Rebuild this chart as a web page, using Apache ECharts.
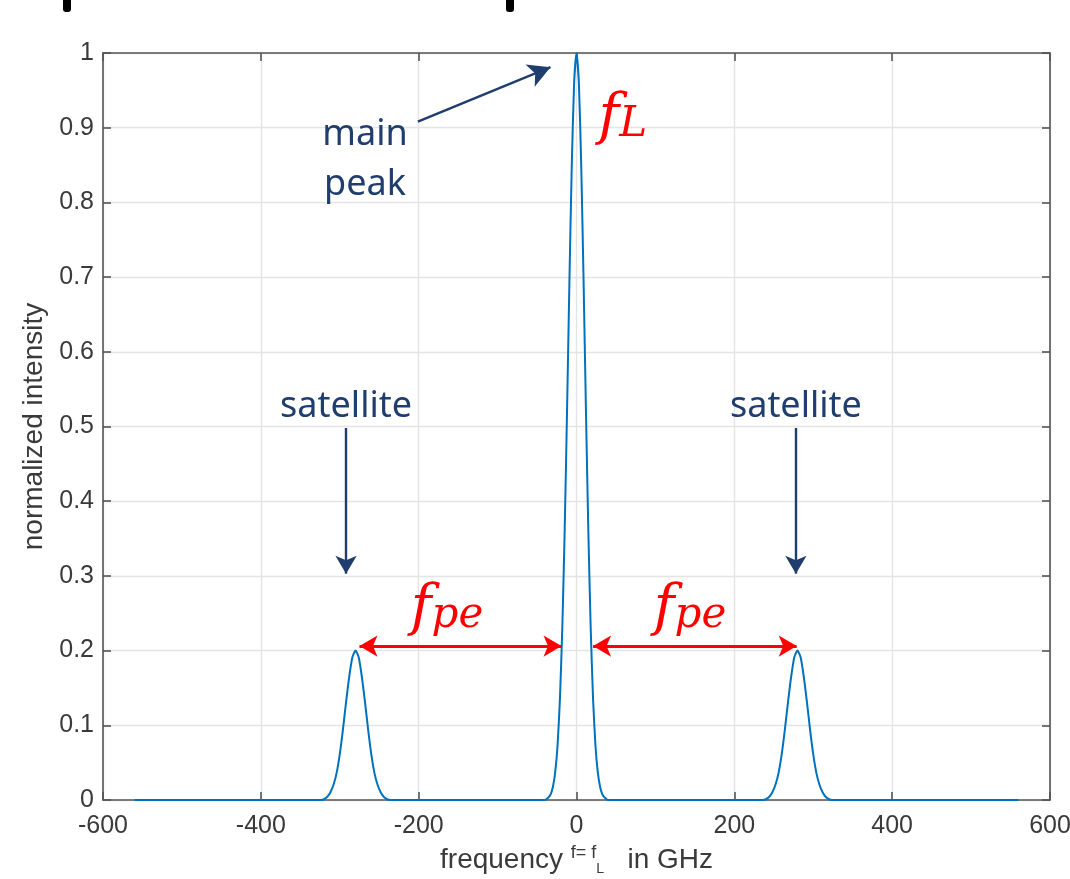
<!DOCTYPE html>
<html>
<head>
<meta charset="utf-8">
<script src="https://cdn.jsdelivr.net/npm/echarts@6/dist/echarts.min.js"></script>
<style>
  html, body { margin: 0; padding: 0; background: #fff; }
  #chart { width: 1070px; height: 879px; }
</style>
</head>
<body>
<div id="chart"></div>
<script>
// spectrum: main peak at 0, satellites at +-280 GHz
const freqGHz = [
  -560, -324, -320, -316, -312, -308, -304, -300, -296, -292, -288, -284, -280,
  -276, -272, -268, -264, -260, -256, -252, -248, -244, -240, -236,
  -40, -36, -33, -30, -27, -24, -21, -18, -15, -12, -9, -6, -3, 0,
  3, 6, 9, 12, 15, 18, 21, 24, 27, 30, 33, 36, 40,
  236, 240, 244, 248, 252, 256, 260, 264, 268, 272, 276, 280,
  284, 288, 292, 296, 300, 304, 308, 312, 316, 320, 324, 560
];
const intensity = [
  0, 0, 0.001, 0.004, 0.010, 0.020, 0.036, 0.061, 0.094, 0.131, 0.165, 0.191, 0.2,
  0.191, 0.165, 0.131, 0.094, 0.061, 0.036, 0.020, 0.010, 0.004, 0.001, 0,
  0, 0.003, 0.007, 0.017, 0.037, 0.073, 0.135, 0.230, 0.360, 0.520, 0.693, 0.849, 0.960, 1,
  0.960, 0.849, 0.693, 0.520, 0.360, 0.230, 0.135, 0.073, 0.037, 0.017, 0.007, 0.003, 0,
  0, 0.001, 0.004, 0.010, 0.020, 0.036, 0.061, 0.094, 0.131, 0.165, 0.191, 0.2,
  0.191, 0.165, 0.131, 0.094, 0.061, 0.036, 0.020, 0.010, 0.004, 0.001, 0, 0
];
const xTicks = [-600, -400, -200, 0, 200, 400, 600];
const yTicks = [0, 0.1, 0.2, 0.3, 0.4, 0.5, 0.6, 0.7, 0.8, 0.9, 1];

const satelliteX = [-292, 278];
const fpeArrows = [[-275, -19], [21, 279]];

const chart = echarts.init(document.getElementById('chart'), null, { renderer: 'canvas' });

const axisColor = '#555555';
const labelColor = '#3a3a3a';
const navy = '#1f3e6e';
const font = 'Liberation Sans, Arial, sans-serif';

const baseAxis = {
  axisLine: { show: true, onZero: false, lineStyle: { color: axisColor, width: 1.6 } },
  axisTick: { show: true, inside: true, length: 8, lineStyle: { color: axisColor, width: 1.6 } },
  splitLine: { show: false },
  axisLabel: { show: false }
};
const gridLine = { show: true, lineStyle: { color: '#e4e4e4', width: 1.4 } };

const option = {
  animation: false,
  grid: { left: 103, right: 20, top: 53, bottom: 79, containLabel: false, outerBoundsMode: 'none' },
  xAxis: [
    {
      type: 'value', min: -600, max: 600, interval: 200, position: 'bottom',
      axisLine: baseAxis.axisLine, axisTick: baseAxis.axisTick, splitLine: gridLine,
      axisLabel: { show: true, color: labelColor, fontSize: 25, fontFamily: font, margin: 14,
        formatter: v => xTicks.includes(v) ? String(v) : '' },
      name: 'frequency {s|f= f}{sub|L}   in GHz',
      nameLocation: 'middle', nameGap: 44,
      nameTextStyle: {
        color: labelColor, fontSize: 28, fontFamily: font,
        rich: {
          s: { fontSize: 18, color: labelColor, fontFamily: font, verticalAlign: 'top', padding: [0, 0, 14, 0] },
          sub: { fontSize: 14, color: labelColor, fontFamily: font, verticalAlign: 'bottom', padding: [10, 0, 0, 0] }
        }
      }
    },
    Object.assign({ type: 'value', min: -600, max: 600, interval: 200, position: 'top' }, baseAxis)
  ],
  yAxis: [
    {
      type: 'value', min: 0, max: 1, interval: 0.1, position: 'left',
      axisLine: baseAxis.axisLine, axisTick: baseAxis.axisTick, splitLine: gridLine,
      axisLabel: { show: true, color: labelColor, fontSize: 25, fontFamily: font, margin: 9,
        formatter: v => String(yTicks.find(t => Math.abs(t - v) < 1e-6) ?? '') },
      name: 'normalized intensity', nameLocation: 'middle', nameGap: 55, nameRotate: 90,
      nameTextStyle: { color: labelColor, fontSize: 28, fontFamily: font }
    },
    Object.assign({ type: 'value', min: 0, max: 1, interval: 0.1, position: 'right' }, baseAxis)
  ],
  series: [
    {
      type: 'line',
      data: freqGHz.map((f, i) => [f, intensity[i]]),
      showSymbol: false,
      smooth: 0.2,
      lineStyle: { color: '#0072bd', width: 2 },
      z: 3,
      markLine: {
        silent: true,
        animation: false,
        label: { show: false },
        symbolSize: [16, 18],
        lineStyle: { color: navy, width: 2.4, type: 'solid' },
        data: [
          // main peak arrow
          [{ coord: [-201, 0.908], symbol: 'none' }, { coord: [-33, 0.981], symbol: 'arrow', symbolSize: [18, 22] }],
          // satellite arrows
          [{ coord: [satelliteX[0], 0.498], symbol: 'none' }, { coord: [satelliteX[0], 0.303], symbol: 'arrow' }],
          [{ coord: [satelliteX[1], 0.498], symbol: 'none' }, { coord: [satelliteX[1], 0.303], symbol: 'arrow' }]
        ]
      }
    },
    {
      type: 'line',
      data: [],
      markLine: {
        silent: true,
        animation: false,
        label: { show: false },
        symbol: ['arrow', 'arrow'],
        symbolSize: [16, 18],
        lineStyle: { color: '#ff0000', width: 3, type: 'solid' },
        data: fpeArrows.map(a => [{ coord: [a[0], 0.206] }, { coord: [a[1], 0.206] }])
      }
    }
  ]
};

chart.setOption(option);

// text annotations placed in data space
function px(x, y) { return chart.convertToPixel({ xAxisIndex: 0, yAxisIndex: 0 }, [x, y]); }
const sans = '"Noto Sans", "Open Sans", sans-serif';
const serif = '"DejaVu Serif", "Liberation Serif", serif';
const texts = [];
function addText(pos, str, style) {
  texts.push({ type: 'text', x: pos[0], y: pos[1], z: 10,
    style: Object.assign({ text: str, align: 'center', verticalAlign: 'middle' }, style) });
}
const navyStyle = { fill: navy, fontSize: 36, fontFamily: sans };
addText(px(-268, 0.891), 'main', navyStyle);
addText(px(-268, 0.823), 'peak', navyStyle);
addText(px(-292, 0.527), 'satellite', navyStyle);
addText(px(278, 0.527), 'satellite', navyStyle);

function mathLabel(pos, sub) {
  texts.push({
    type: 'text', x: pos[0], y: pos[1], z: 10,
    style: {
      text: '{f|f}{s|' + sub + '}',
      align: 'left', verticalAlign: 'bottom',
      rich: {
        f: { fill: '#ff0000', fontSize: 56, fontStyle: 'italic', fontFamily: serif },
        s: { fill: '#ff0000', fontSize: 42, fontStyle: 'italic', fontFamily: serif, padding: [14, 0, 0, 0] }
      }
    }
  });
}
mathLabel(px(28, 0.875), 'L');
mathLabel(px(-210, 0.218), 'pe');
mathLabel(px(98, 0.218), 'pe');

// fragments of the cropped heading above the chart
texts.push({ type: 'rect', shape: { x: 63, y: 0, width: 8, height: 12, r: [0, 0, 3, 3] }, style: { fill: '#000' } });
texts.push({ type: 'rect', shape: { x: 506, y: 0, width: 8, height: 12, r: [0, 0, 3, 3] }, style: { fill: '#000' } });

chart.setOption({ graphic: texts });
</script>
</body>
</html>
